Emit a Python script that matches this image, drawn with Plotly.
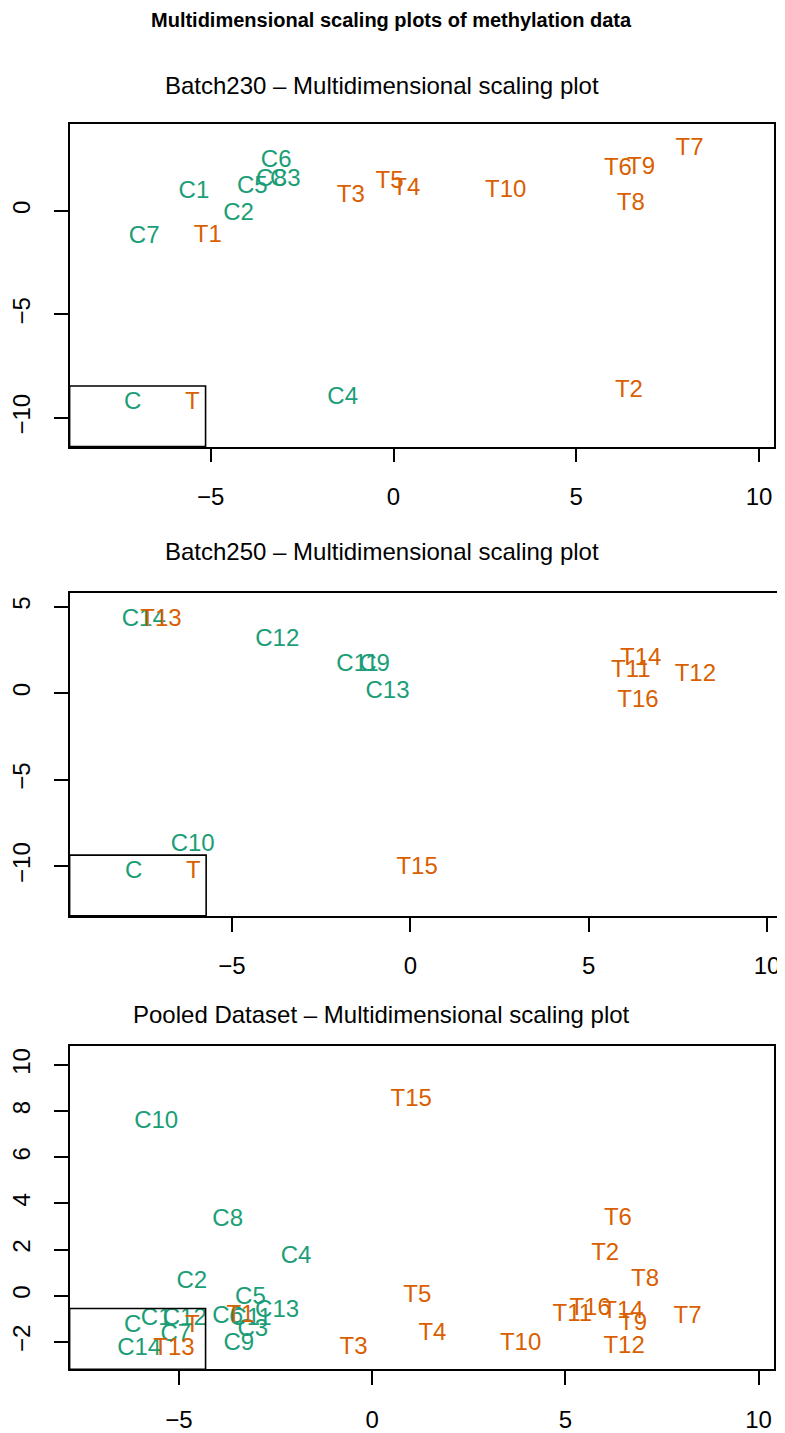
import plotly.graph_objects as go

GREEN = "#1B9E77"
ORANGE = "#D95F02"
FONT = "Liberation Sans, Arial, Helvetica, sans-serif"

main_title = "Multidimensional scaling plots of methylation data"
panel_titles = ["Batch230 \u2013 Multidimensional scaling plot",
                "Batch250 \u2013 Multidimensional scaling plot",
                "Pooled Dataset \u2013 Multidimensional scaling plot"]

# Panel 1: Batch230
b230_labels = ["C1", "C2", "C3", "C4", "C5", "C6", "C7", "C8",
               "T1", "T2", "T3", "T4", "T5", "T6", "T7", "T8", "T9", "T10"]
b230_x = [-5.46, -4.24, -2.96, -1.39, -3.86, -3.21, -6.82, -3.34,
          -5.08, 6.44, -1.17, 0.35, -0.11, 6.14, 8.10, 6.49, 6.77, 3.07]
b230_y = [0.91, -0.14, 1.49, -9.04, 1.15, 2.40, -1.25, 1.49,
          -1.20, -8.70, 0.72, 1.06, 1.39, 2.02, 2.98, 0.34, 2.07, 0.96]

# Panel 2: Batch250
b250_labels = ["C9", "C10", "C11", "C12", "C13", "C14",
               "T11", "T12", "T13", "T14", "T15", "T16"]
b250_x = [-1.00, -6.10, -1.48, -3.73, -0.64, -7.47,
          6.18, 7.99, -6.99, 6.46, 0.19, 6.38]
b250_y = [1.61, -8.79, 1.61, 3.05, 0.06, 4.20,
          1.26, 1.03, 4.20, 1.95, -10.11, -0.46]

# Panel 3: Pooled
pool_labels = ["C1", "C2", "C3", "C4", "C5", "C6", "C7", "C8", "C9", "C10",
               "C11", "C12", "C13", "C14",
               "T1", "T2", "T3", "T4", "T5", "T6", "T7", "T8", "T9", "T10",
               "T11", "T12", "T13", "T14", "T15", "T16"]
pool_x = [-5.59, -4.67, -3.09, -1.97, -3.15, -3.74, -5.08, -3.74, -3.45, -5.59,
          -3.15, -4.85, -2.46, -6.03,
          -3.41, 6.03, -0.48, 1.56, 1.17, 6.36, 8.16, 7.06, 6.75, 3.84,
          5.18, 6.52, -5.13, 6.49, 1.01, 5.64]
pool_y = [-0.99, 0.60, -1.47, 1.68, -0.09, -0.91, -1.72, 3.28, -2.11, 7.54,
          -0.99, -1.03, -0.65, -2.33,
          -0.86, 1.81, -2.28, -1.64, 0.00, 3.32, -0.91, 0.69, -1.21, -2.11,
          -0.82, -2.24, -2.33, -0.69, 8.49, -0.56]

# The page adds an 8px body margin; the figure is sized to fill the rest.
OFF = 8
W, H = 785 - OFF, 1433 - OFF


def fx(px):
    return (px - OFF) / W


def fy(py):
    return 1 - (py - OFF) / H


panels = [
    dict(labels=b230_labels, x=b230_x, y=b230_y,
         xrange=[-8.86, 10.41], yrange=[-11.39, 4.18],
         xticks=[-5, 0, 5, 10], yticks=[-10, -5, 0],
         xdom=[fx(68), fx(777)], ydom=[fy(449), fy(125)],
         title_y=fy(86)),
    dict(labels=b250_labels, x=b250_x, y=b250_y,
         xrange=[-9.55, 10.28], yrange=[-12.87, 5.80],
         xticks=[-5, 0, 5, 10], yticks=[-10, -5, 0, 5],
         xdom=[fx(68), fx(780)], ydom=[fy(921), fy(596)],
         title_y=fy(555)),
    dict(labels=pool_labels, x=pool_x, y=pool_y,
         xrange=[-7.83, 10.40], yrange=[-3.19, 10.82],
         xticks=[-5, 0, 5, 10], yticks=[-2, 0, 2, 4, 6, 8, 10],
         xdom=[fx(68), fx(777)], ydom=[fy(1377), fy(1052)],
         title_y=fy(1020)),
]

fig = go.Figure()
annotations = []
shapes = []

for i, p in enumerate(panels, start=1):
    xa = "x" if i == 1 else f"x{i}"
    ya = "y" if i == 1 else f"y{i}"
    colors = [GREEN if lab.startswith("C") else ORANGE for lab in p["labels"]]
    fig.add_trace(go.Scatter(
        x=p["x"], y=p["y"], text=p["labels"], mode="text",
        textposition="middle center",
        textfont=dict(family=FONT, size=24, color=colors),
        xaxis=xa, yaxis=ya, showlegend=False, hoverinfo="text"))

    axis_common = dict(showgrid=False, zeroline=False, showline=True,
                       linecolor="black", linewidth=1.6, mirror=True,
                       ticks="outside", ticklen=14, tickwidth=1.6,
                       tickcolor="black",
                       tickfont=dict(family=FONT, size=24, color="black"))
    xkey = "xaxis" if i == 1 else f"xaxis{i}"
    ykey = "yaxis" if i == 1 else f"yaxis{i}"
    fig.update_layout(**{
        xkey: dict(axis_common, range=p["xrange"], domain=p["xdom"],
                   tickvals=p["xticks"], anchor=ya, ticklabelstandoff=14),
        ykey: dict(axis_common, range=p["yrange"], domain=p["ydom"],
                   tickvals=p["yticks"], anchor=xa, tickangle=-90,
                   ticklabelstandoff=14),
    })

    dref_x = f"{xa} domain"
    dref_y = f"{ya} domain"
    shapes.append(dict(type="rect", xref=dref_x, yref=dref_y,
                       x0=0, x1=0.193, y0=0, y1=0.188,
                       line=dict(color="black", width=1.6)))
    annotations.append(dict(xref=dref_x, yref=dref_y, x=0.075, y=0.094,
                            text="C", showarrow=False,
                            font=dict(family=FONT, size=24, color=GREEN)))
    annotations.append(dict(xref=dref_x, yref=dref_y, x=0.161, y=0.094,
                            text="T", showarrow=False,
                            font=dict(family=FONT, size=24, color=ORANGE)))
    annotations.append(dict(xref="paper", yref="paper",
                            x=fx(382), y=p["title_y"],
                            text=panel_titles[i - 1], showarrow=False,
                            xanchor="center", yanchor="middle",
                            font=dict(family=FONT, size=24, color="black")))

annotations.append(dict(xref="paper", yref="paper", x=fx(392), y=fy(20),
                        text="<b>" + main_title + "</b>", showarrow=False,
                        xanchor="center", yanchor="middle",
                        font=dict(family=FONT, size=20, color="black")))

fig.update_layout(width=W, height=H,
                  margin=dict(l=0, r=0, t=0, b=0),
                  paper_bgcolor="white", plot_bgcolor="white",
                  annotations=annotations, shapes=shapes)

fig.write_html("out.html")
